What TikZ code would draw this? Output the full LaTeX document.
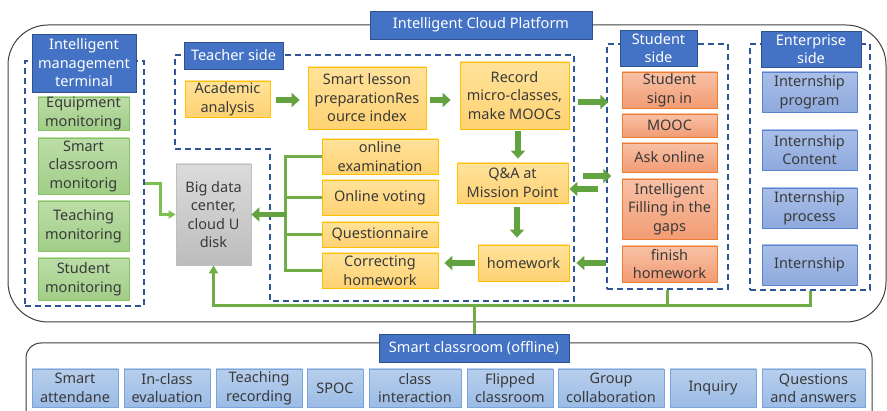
\documentclass[tikz,border=0pt]{standalone}
\usepackage{fontspec}
\setmainfont{Noto Sans}
\usetikzlibrary{arrows.meta, positioning, calc}

\definecolor{hdrblue}{HTML}{4472C4}
\definecolor{hdrborder}{HTML}{2F528F}
\definecolor{dashblue}{HTML}{2F5597}
\definecolor{treegreen}{HTML}{70AD47}
\definecolor{arrowgreen}{HTML}{62A23F}
\definecolor{lightgreen}{HTML}{7CC150}
\definecolor{textgray}{HTML}{3A3A3A}
\definecolor{teachtop}{HTML}{FFE29A}
\definecolor{teachbot}{HTML}{FFD273}
\definecolor{teachline}{HTML}{FFC000}
\definecolor{studtop}{HTML}{F8C1A6}
\definecolor{studbot}{HTML}{F29C74}
\definecolor{studline}{HTML}{ED7D31}
\definecolor{montop}{HTML}{BCDDA7}
\definecolor{monbot}{HTML}{A1CE88}
\definecolor{monline}{HTML}{86C462}
\definecolor{firmtop}{HTML}{A9BFE8}
\definecolor{firmbot}{HTML}{8EA9DC}
\definecolor{firmline}{HTML}{5B82CC}
\definecolor{classtop}{HTML}{B8CFEC}
\definecolor{classbot}{HTML}{9BBCE6}
\definecolor{classline}{HTML}{7AA5DB}

\tikzset{
    box/.style={rectangle, draw, line width=0.8pt, align=center, inner sep=0pt, text=textgray, font=\fontsize{14.5}{18.5}\selectfont},
    header/.style={rectangle, draw=hdrborder, line width=0.6pt, fill=hdrblue, text=white, align=center, inner sep=0pt, font=\fontsize{14.5}{18.5}\selectfont},
    teacherbox/.style={box, draw=teachline, top color=teachtop, bottom color=teachbot},
    studentbox/.style={box, draw=studline, top color=studtop, bottom color=studbot},
    monitorbox/.style={box, draw=monline, top color=montop, bottom color=monbot},
    firmbox/.style={box, draw=firmline, top color=firmtop, bottom color=firmbot},
    classbox/.style={box, draw=classline, top color=classtop, bottom color=classbot},
    databox/.style={box, draw=black!25, top color=black!14, bottom color=black!26},
    dashbox/.style={rectangle, draw=dashblue, line width=1.4pt, dash pattern=on 6pt off 4pt, inner sep=0pt},
    fatarrow/.style={draw=arrowgreen, line width=5.5pt, -{Triangle[length=8pt, width=14pt]}},
    treeline/.style={draw=treegreen, line width=3.5pt},
    netline/.style={draw=treegreen, line width=3pt},
    thinline/.style={draw=lightgreen, line width=2.5pt}
}

\begin{document}
\begin{tikzpicture}[x=1pt, y=-1pt]
    \useasboundingbox (0,0) rectangle (887,411);

    % cloud platform frame
    \draw[black!75, line width=1pt, rounded corners=40pt] (8,25) rectangle (886,322);
    \node[header, minimum width=222, minimum height=28] (cloud) at (481,25) {Intelligent Cloud Platform};

    % management terminal
    \node[dashbox, minimum width=119, minimum height=245] (mgmt) at (84.5,183.5) {};
    \node[header, minimum width=104, minimum height=58] (mgmt_head) at (84,63) {Intelligent\\management\\terminal};
    \node[monitorbox, minimum width=91, minimum height=33] (equip_mon) at (83.5,113.5) {Equipment\\monitoring};
    \node[monitorbox, minimum width=91, minimum height=56] (room_mon) at (83.5,166) {Smart\\classroom\\monitorig};
    \node[monitorbox, minimum width=91, minimum height=50] (teach_mon) at (83.5,226) {Teaching\\monitoring};
    \node[monitorbox, minimum width=91, minimum height=42] (stud_mon) at (83.5,279) {Student\\monitoring};

    % teacher side
    \draw[draw=dashblue, line width=1.4pt, dash pattern=on 6pt off 4pt] (175,55) -- (574,55) -- (574,301) -- (270,301) -- (270,149) -- (175,149) -- cycle;
    \node[header, minimum width=99, minimum height=27] (teacher_head) at (233.5,55.5) {Teacher side};
    \node[teacherbox, minimum width=85, minimum height=36] (academic) at (227.5,99) {Academic\\analysis};
    \node[teacherbox, minimum width=118, minimum height=62] (lesson) at (367,98) {Smart lesson\\preparationRes\\ource index};
    \node[teacherbox, minimum width=109, minimum height=67] (record) at (514.5,95.5) {Record\\micro-classes,\\make MOOCs};
    \node[teacherbox, minimum width=111, minimum height=40] (mission) at (512.5,183) {Q\&A at\\Mission Point};
    \node[teacherbox, minimum width=91, minimum height=36] (homework) at (523.5,263) {homework};
    \node[teacherbox, minimum width=116, minimum height=35] (exam) at (380,156.5) {online\\examination};
    \node[teacherbox, minimum width=116, minimum height=35] (voting) at (380,197.5) {Online voting};
    \node[teacherbox, minimum width=116, minimum height=25] (survey) at (380,234.5) {Questionnaire};
    \node[teacherbox, minimum width=116, minimum height=35] (correct) at (380,270.5) {Correcting\\homework};
    \node[databox, minimum width=75, minimum height=101] (bigdata) at (213.5,214.5) {Big data\\center,\\cloud U\\disk};

    % student side
    \node[dashbox, minimum width=121, minimum height=245] (student) at (667.5,166.5) {};
    \node[header, minimum width=77, minimum height=36] (student_head) at (658.5,48) {Student\\side};
    \node[studentbox, minimum width=95, minimum height=36] (signin) at (669.5,90) {Student\\sign in};
    \node[studentbox, minimum width=95, minimum height=23] (mooc) at (669.5,125.5) {MOOC};
    \node[studentbox, minimum width=95, minimum height=29] (ask) at (669.5,157.5) {Ask online};
    \node[studentbox, minimum width=95, minimum height=60] (gaps) at (669.5,209) {Intelligent\\Filling in the\\gaps};
    \node[studentbox, minimum width=95, minimum height=36] (finish) at (669.5,264) {finish\\homework};

    % enterprise side
    \node[dashbox, minimum width=120, minimum height=246] (firm) at (810,167) {};
    \node[header, minimum width=100, minimum height=36] (firm_head) at (811,49) {Enterprise\\side};
    \node[firmbox, minimum width=95, minimum height=40] (program) at (809.5,92) {Internship\\program};
    \node[firmbox, minimum width=95, minimum height=40] (content) at (809.5,150) {Internship\\Content};
    \node[firmbox, minimum width=95, minimum height=40] (process) at (809.5,208) {Internship\\process};
    \node[firmbox, minimum width=95, minimum height=40] (internship) at (809.5,265) {Internship};

    % smart classroom (offline)
    \draw[black!75, line width=1pt, rounded corners=15pt] (26,411) -- (26,343) -- (872,343) -- (872,411);
    \node[header, minimum width=190, minimum height=28] (offline) at (474,348) {Smart classroom (offline)};
    \node[classbox, minimum width=86, minimum height=38] (attend) at (75,388) {Smart\\attendane};
    \node[classbox, minimum width=86, minimum height=38] (inclass) at (167,388) {In-class\\evaluation};
    \node[classbox, minimum width=86, minimum height=38] (recording) at (259,388) {Teaching\\recording};
    \node[classbox, minimum width=56, minimum height=38] (spoc) at (335,388) {SPOC};
    \node[classbox, minimum width=92, minimum height=38] (interact) at (415,388) {class\\interaction};
    \node[classbox, minimum width=86, minimum height=38] (flipped) at (510,388) {Flipped\\classroom};
    \node[classbox, minimum width=106, minimum height=38] (group) at (611,388) {Group\\collaboration};
    \node[classbox, minimum width=86, minimum height=38] (inquiry) at (713,388) {Inquiry};
    \node[classbox, minimum width=103, minimum height=38] (answers) at (813.5,388) {Questions\\and answers};

    % teacher flow
    \draw[fatarrow] ($(academic.east)+(6,1)$) -- ($(lesson.west)+(-8,2)$);
    \draw[fatarrow] ($(lesson.east)+(4,2)$) -- ($(record.west)+(-9,4.5)$);
    \draw[fatarrow] ($(record.south)+(3.5,2)$) -- ($(mission.north)+(5.5,-4)$);
    \draw[fatarrow] ($(mission.south)+(4.5,4)$) -- ($(homework.north)+(-6.5,-7)$);
    \draw[fatarrow] ($(homework.west)+(-3,0)$) -- ($(correct.east |- homework)+(6,0)$);

    % between teacher and student side
    \draw[fatarrow] ($(record.east)+(9,6.5)$) -- ($(student.west |- record)+(2,6.5)$);
    \draw[fatarrow] ($(mission.east)+(15,-7)$) -- ($(student.west |- mission)+(5,-7)$);
    \draw[fatarrow] ($(student.west |- mission)+(-8,6)$) -- ($(mission.east)+(1,6)$);
    \draw[fatarrow] (student.west |- homework) -- ($(homework.east)+(7,0)$);

    % tools to big data center
    \draw[treeline] (exam.west) -| ($(correct.west)+(-36,0)$) -- (correct.west);
    \draw[treeline] (voting.west) -- ++(-37.75,0);
    \draw[treeline] (survey.west) -- ++(-37.75,0);
    \draw[fatarrow] ($(correct.west |- bigdata)+(-34.25,0)$) -- (bigdata.east);
    \draw[thinline, -{Triangle[length=7pt, width=8pt]}] (mgmt.east) -- ++(16,0) |- (bigdata.west);

    % link to offline classroom
    \draw[netline, -{Triangle[length=8pt, width=9pt]}] (offline.north) -- (offline.north |- 0,306) -| (bigdata.south);
    \draw[netline] (offline.north |- 0,306) -| (firm.south);
    \draw[netline] (student.south) -- (student.south |- 0,306);
\end{tikzpicture}
\end{document}
